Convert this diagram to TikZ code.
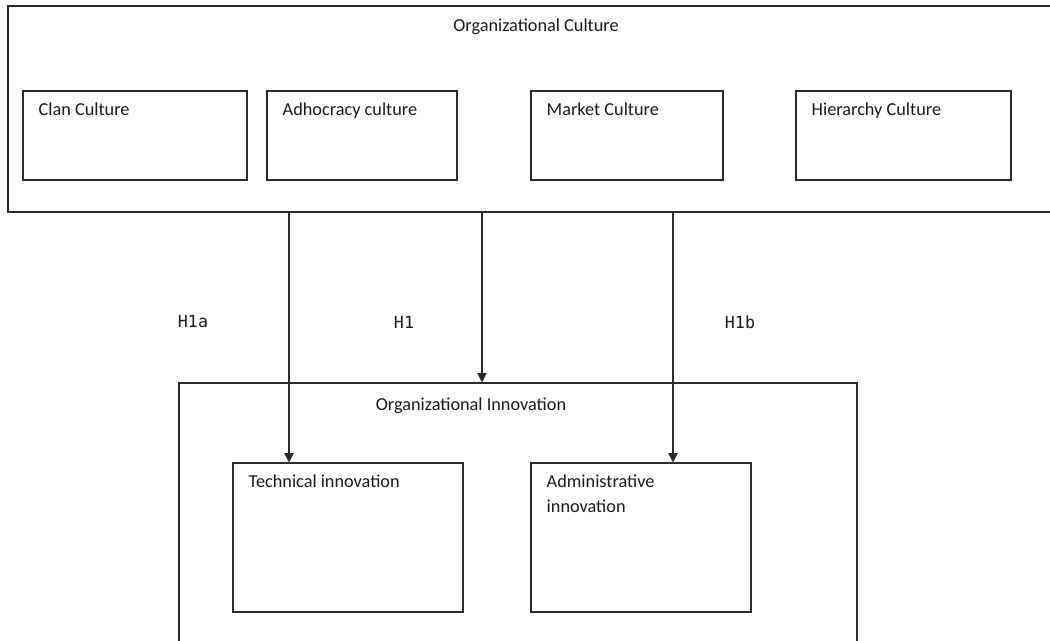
\documentclass[tikz,border=0pt]{standalone}
\usepackage{fontspec}
\setmainfont{Carlito}
\newfontfamily\hmono{DejaVu Sans Mono}
\usetikzlibrary{fit,arrows.meta}
\definecolor{ln}{HTML}{2A2A2A}
\definecolor{tx}{HTML}{1A1A1A}
\tikzset{
  box/.style={draw=ln, line width=0.8pt, inner sep=0pt, fill=none},
  lbl/.style={inner sep=0pt, anchor=north west, text=tx, font=\fontsize{13.7}{19}\selectfont, align=left},
  ttl/.style={inner sep=0pt, text=tx, font=\fontsize{13.7}{19}\selectfont},
  hyp/.style={inner sep=0pt, text=tx, font=\hmono\fontsize{12.5}{14}\selectfont},
  arr/.style={draw=ln, line width=0.8pt, -{Triangle[length=7pt,width=7pt]}}
}
\begin{document}
\begin{tikzpicture}[x=0.75pt,y=-0.75pt]
\useasboundingbox (0,0) rectangle (1050,641);
\clip (0,0) rectangle (1050,641);
% outer boxes
\node[box, fit={(8,6) (1070,212)}] (oc) {};
\node[box, fit={(179,383) (857,660)}] (oi) {};
% culture boxes
\node[box, fit={(23,91) (247,180)}] (clan) {};
\node[box, fit={(267,91) (457,180)}] (adh) {};
\node[box, fit={(531,91) (723,180)}] (mkt) {};
\node[box, fit={(796,91) (1011,180)}] (hier) {};
% innovation boxes
\node[box, fit={(233,463) (463,612)}] (tech) {};
\node[box, fit={(531,463) (751,612)}] (adm) {};
% titles
\node[ttl] (oct) at (536,27) {Organizational Culture};
\node[ttl] (oit) at (471,406) {Organizational Innovation};
% box labels
\node[lbl] at ([xshift=12pt,yshift=-9pt]clan.north west) {Clan Culture};
\node[lbl] at ([xshift=12pt,yshift=-9pt]adh.north west) {Adhocracy culture};
\node[lbl] at ([xshift=12pt,yshift=-9pt]mkt.north west) {Market Culture};
\node[lbl] at ([xshift=12pt,yshift=-9pt]hier.north west) {Hierarchy Culture};
\node[lbl] at ([xshift=12pt,yshift=-9pt]tech.north west) {Technical innovation};
\node[lbl] at ([xshift=12pt,yshift=-9pt]adm.north west) {Administrative\\innovation};
% connectors
\coordinate (s1) at (289,212);
\coordinate (s2) at (482,212);
\coordinate (s3) at (673,212);
\draw[arr] (s1) -- (s1 |- tech.north);
\draw[arr] (s2) -- (s2 |- oi.north);
\draw[arr] (s3) -- (s3 |- adm.north);
% hypothesis labels
\node[hyp] (h1a) at (193,322) {H1a};
\node[hyp] (h1) at (404,322) {H1};
\node[hyp] (h1b) at (740,322) {H1b};
\end{tikzpicture}
\end{document}
